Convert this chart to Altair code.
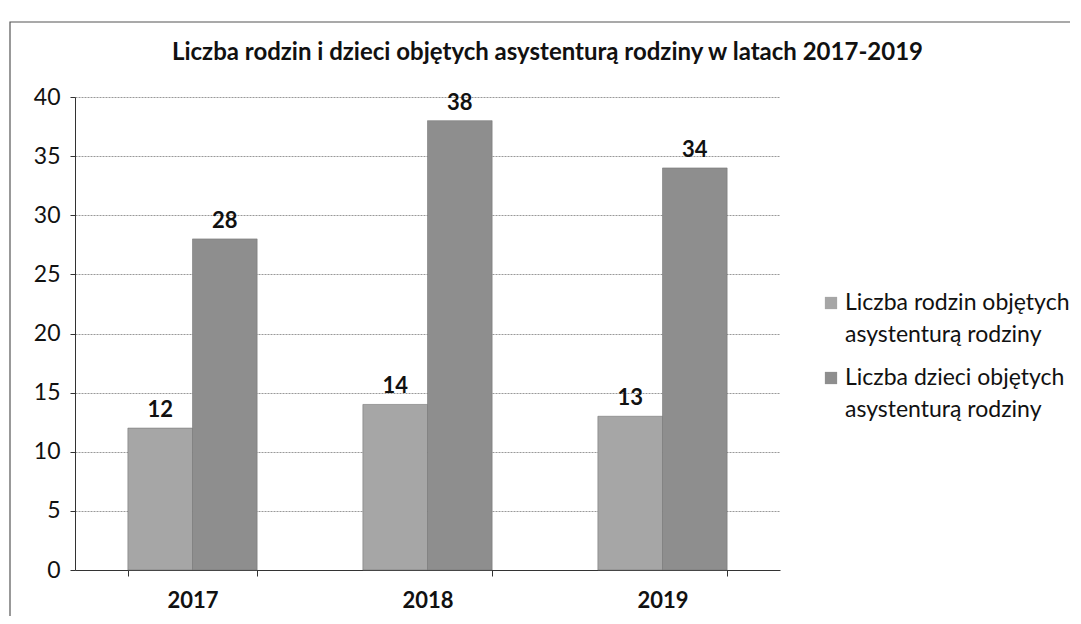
import altair as alt
import pandas as pd

years = ["2017", "2018", "2019"]
series = ["Liczba rodzin objętych asystenturą rodziny", "Liczba dzieci objętych asystenturą rodziny"]
legend_lines = [["Liczba rodzin objętych", "asystenturą rodziny"],
                ["Liczba dzieci objętych", "asystenturą rodziny"]]
rodziny = [12, 14, 13]
dzieci = [28, 38, 34]
colors = ["#a6a6a6", "#8e8e8e"]

rows = []
for i, y in enumerate(years):
    rows.append({"rok": y, "seria": series[0], "wartosc": rodziny[i], "ord": 0})
    rows.append({"rok": y, "seria": series[1], "wartosc": dzieci[i], "ord": 1})
df = pd.DataFrame(rows)

FONT = "Lato"

x = alt.X("rok:N", title=None,
          scale=alt.Scale(paddingInner=0.45, paddingOuter=0.225),
          axis=alt.Axis(labelAngle=0, labelFontWeight="bold", labelFontSize=22,
                        labelColor="#111", tickBand="extent", tickSize=6,
                        domainColor="#333", tickColor="#333", labelPadding=14))
y = alt.Y("wartosc:Q", title=None,
          scale=alt.Scale(domain=[0, 40], nice=False),
          axis=alt.Axis(values=[0, 5, 10, 15, 20, 25, 30, 35, 40], labelFontSize=23,
                        labelColor="#111", grid=True, gridColor="#999",
                        gridDash=[2, 1], tickSize=5, domainColor="#333",
                        tickColor="#333", labelPadding=10))

xoff = alt.XOffset("ord:O", scale=alt.Scale(paddingInner=0, paddingOuter=0))

frame = alt.Chart(pd.DataFrame({"f": [0]})).mark_rect(
    fill=None, stroke="#555", strokeWidth=1.2
).encode(x=alt.value(-65), x2=alt.value(1100), y=alt.value(-75), y2=alt.value(700))

bars = alt.Chart(df).mark_bar(stroke="#777", strokeWidth=0.6).encode(
    x=x, y=y, xOffset=xoff,
    color=alt.Color("seria:N", sort=series,
                    scale=alt.Scale(domain=series, range=colors),
                    legend=None),
)

labels = alt.Chart(df).mark_text(dy=-18, fontWeight="bold", fontSize=22,
                                 color="#111", font=FONT).encode(
    x=x, y=y, xOffset=xoff,
    text="wartosc:Q",
)

# manual legend (two-line labels)
legend_layers = []
one = pd.DataFrame({"f": [0]})
for i, lines in enumerate(legend_lines):
    top = 206 + i * 75
    legend_layers.append(
        alt.Chart(one).mark_square(size=150, color=colors[i], opacity=1).encode(
            x=alt.value(756), y=alt.value(top))
    )
    for j, line in enumerate(lines):
        legend_layers.append(
            alt.Chart(one).mark_text(text=line, align="left", baseline="middle",
                                     fontSize=23, color="#111", font=FONT).encode(
                x=alt.value(770), y=alt.value(top + j * 32))
        )

chart = alt.layer(frame, bars, labels, *legend_layers).properties(
    width=705, height=473,
    title=alt.Title("Liczba rodzin i dzieci objętych asystenturą rodziny w latach 2017-2019",
                    fontSize=24, fontWeight="bold", color="#111", anchor="middle",
                    offset=0, dx=120, dy=44),
    autosize=alt.AutoSizeParams(type="none"),
    padding={"left": 67, "top": 89, "right": 290, "bottom": 46},
).configure(font=FONT).configure_view(stroke=None).configure_axis(
    labelFont=FONT
).configure_title(font=FONT)

chart.save("out.html", embed_options={"renderer": "svg", "actions": False})
